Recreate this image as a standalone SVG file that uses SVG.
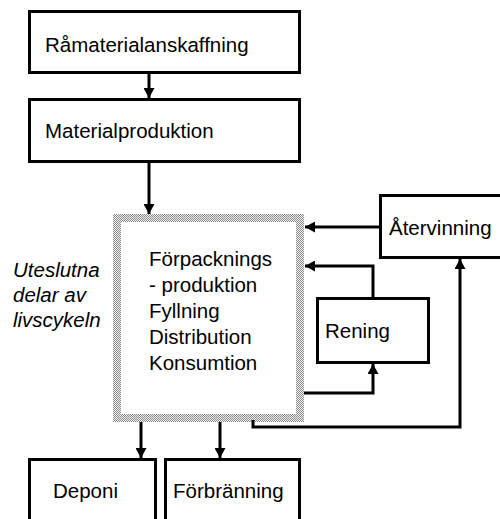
<svg xmlns="http://www.w3.org/2000/svg" width="500" height="519" viewBox="0 0 500 519">
<style>
.box{fill:#fff;stroke:#000;stroke-width:3}
.t{font-family:"Liberation Sans",Arial,Helvetica,sans-serif;font-size:20.5px;fill:#000}
.it{font-style:italic}
.c{fill:none;stroke:#000;stroke-width:3;marker-end:url(#ah)}
</style>
<defs>
<marker id="ah" markerUnits="userSpaceOnUse" markerWidth="10" markerHeight="11" refX="10" refY="5.5" orient="auto">
<path d="M0,0 L10,5.5 L0,11 z" fill="#000"/>
</marker>
<pattern id="stip" x="0" y="0" width="2" height="2" patternUnits="userSpaceOnUse">
<rect width="2" height="2" fill="#f0f0f0"/>
<rect width="1" height="1" fill="#8c8c8c"/>
<rect x="1" y="1" width="1" height="1" fill="#8c8c8c"/>
</pattern>
</defs>
<g id="ramaterial">
<rect class="box" x="29.5" y="11.5" width="270" height="61"/>
<text class="t" x="45" y="52">Råmaterialanskaffning</text>
</g>
<g id="materialproduktion">
<rect class="box" x="29.5" y="99.5" width="270" height="62"/>
<text class="t" x="45" y="138">Materialproduktion</text>
</g>
<g id="forpackning">
<path fill="url(#stip)" fill-rule="evenodd" d="M113,214 H304 V422 H113 Z M121,222 V414 H296 V222 Z"/>
<rect x="121" y="222" width="175" height="192" fill="#fff"/>
<text class="t" x="149" y="266">Förpacknings</text>
<text class="t" x="149" y="292">- produktion</text>
<text class="t" x="149" y="318">Fyllning</text>
<text class="t" x="149" y="344">Distribution</text>
<text class="t" x="149" y="370">Konsumtion</text>
</g>
<g id="uteslutna">
<text class="t it" x="13" y="277">Uteslutna</text>
<text class="t it" x="13" y="302">delar av</text>
<text class="t it" x="13" y="327">livscykeln</text>
</g>
<g id="atervinning">
<rect class="box" x="380.5" y="195.5" width="125" height="62"/>
<text class="t" x="389" y="235">Återvinning</text>
</g>
<g id="rening">
<rect class="box" x="317.5" y="298.5" width="111" height="64"/>
<text class="t" x="325" y="338">Rening</text>
</g>
<g id="deponi">
<rect class="box" x="29.5" y="459.5" width="126" height="70"/>
<text class="t" x="53" y="498">Deponi</text>
</g>
<g id="forbranning">
<rect class="box" x="165.5" y="459.5" width="134" height="70"/>
<text class="t" x="173" y="498">Förbränning</text>
</g>
<g id="connectors">
<path class="c" d="M149,73 V98"/>
<path class="c" d="M149,163 V214"/>
<path class="c" d="M379,227 H305"/>
<path class="c" d="M373,297 V266 H305"/>
<path class="c" d="M304,393 H373 V364"/>
<path class="c" d="M253,420 V427 H460 V259"/>
<path class="c" d="M141,422 V458"/>
<path class="c" d="M220,422 V458"/>
</g>
</svg>
